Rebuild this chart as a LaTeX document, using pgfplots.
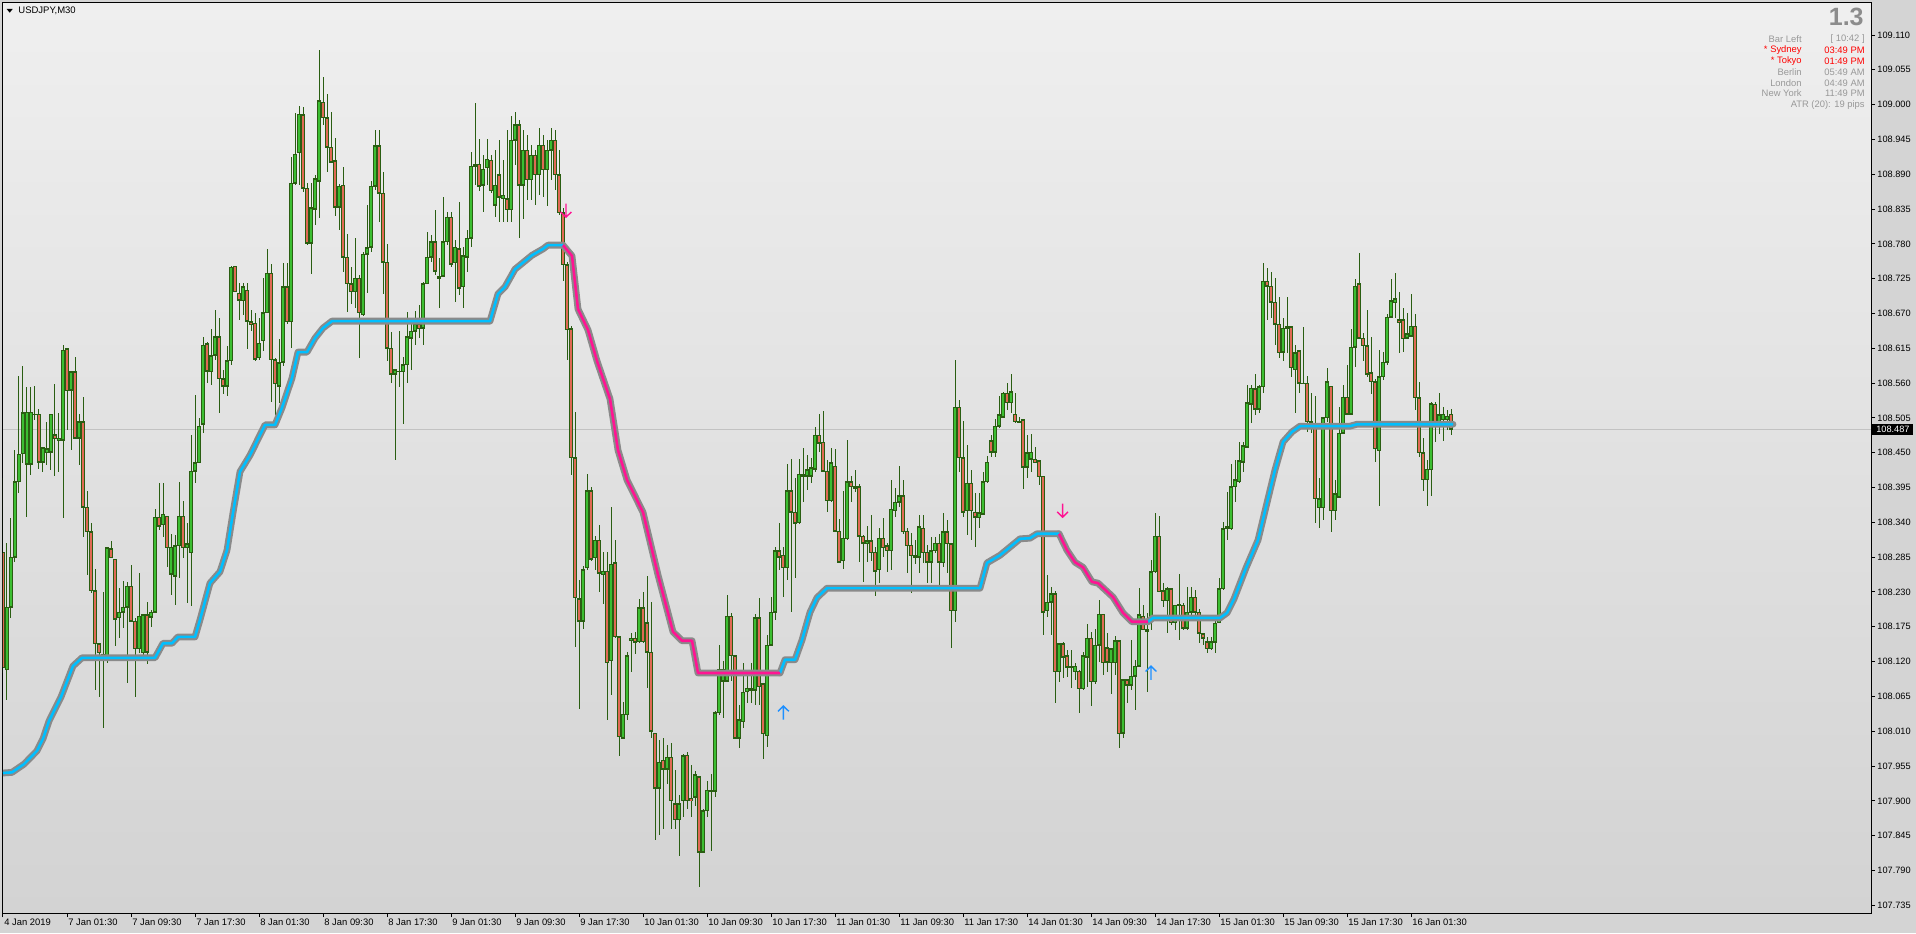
\documentclass[border=0pt]{standalone}
\usepackage{fontspec}
\setmainfont{Liberation Sans}
\usepackage{pgfplots}
\usepackage{pgfplotstable}
\pgfplotsset{compat=1.18}
\definecolor{outerbg}{HTML}{D4D4D4}
\definecolor{bgtop}{HTML}{EFEFEF}
\definecolor{bgbot}{HTML}{D3D3D3}
\definecolor{wickc}{HTML}{2A5E12}
\definecolor{bullc}{HTML}{3CBE32}
\definecolor{bearc}{HTML}{E06A55}
\definecolor{lgray}{HTML}{8A8A8A}
\definecolor{cyanl}{HTML}{00BFFF}
\definecolor{pinkl}{HTML}{FF1493}
\definecolor{arrblue}{HTML}{1E90FF}
\definecolor{infogray}{HTML}{989898}
\definecolor{bigg}{HTML}{8C8C8C}
\definecolor{pricel}{HTML}{C2C2C2}

\pgfdeclareplotmark{mtdown}{%
 \pgfpathmoveto{\pgfqpoint{0pt}{3.4pt}}\pgfpathlineto{\pgfqpoint{0pt}{-3.4pt}}%
 \pgfpathmoveto{\pgfqpoint{-2.7pt}{-0.8pt}}\pgfpathlineto{\pgfqpoint{0pt}{-3.4pt}}\pgfpathlineto{\pgfqpoint{2.7pt}{-0.8pt}}%
 \pgfusepathqstroke}
\pgfdeclareplotmark{mtup}{%
 \pgfpathmoveto{\pgfqpoint{0pt}{-3.4pt}}\pgfpathlineto{\pgfqpoint{0pt}{3.4pt}}%
 \pgfpathmoveto{\pgfqpoint{-2.7pt}{0.8pt}}\pgfpathlineto{\pgfqpoint{0pt}{3.4pt}}\pgfpathlineto{\pgfqpoint{2.7pt}{0.8pt}}%
 \pgfusepathqstroke}

\pgfplotstableread{
i o h l c
0 108.293 108.410 108.102 108.110
1 108.107 108.307 108.059 108.206
2 108.206 108.347 108.189 108.285
3 108.285 108.454 108.277 108.404
4 108.404 108.571 108.386 108.448
5 108.448 108.587 108.434 108.513
6 108.432 108.554 108.348 108.514
7 108.432 108.554 108.415 108.514
8 108.511 108.555 108.502 108.510
9 108.511 108.519 108.424 108.435
10 108.435 108.459 108.420 108.458
11 108.451 108.499 108.431 108.456
12 108.451 108.511 108.423 108.511
13 108.478 108.559 108.413 108.472
14 108.469 108.513 108.420 108.473
15 108.470 108.620 108.347 108.612
16 108.614 108.615 108.486 108.548
17 108.549 108.578 108.454 108.578
18 108.578 108.601 108.473 108.473
19 108.473 108.511 108.431 108.499
20 108.499 108.538 108.317 108.364
21 108.364 108.390 108.257 108.325
22 108.325 108.339 108.229 108.232
23 108.232 108.266 108.075 108.148
24 108.148 108.148 108.064 108.134
25 108.132 108.230 108.015 108.129
26 108.129 108.301 108.118 108.300
27 108.298 108.311 108.284 108.284
28 108.282 108.282 108.145 108.187
29 108.189 108.236 108.157 108.198
30 108.198 108.247 108.173 108.206
31 108.206 108.246 108.086 108.239
32 108.239 108.273 108.184 108.184
33 108.184 108.189 108.064 108.140
34 108.140 108.260 108.134 108.192
35 108.134 108.194 108.126 108.194
36 108.194 108.214 108.116 108.135
37 108.190 108.201 108.175 108.198
38 108.198 108.361 108.198 108.348
39 108.348 108.402 108.328 108.334
40 108.336 108.402 108.317 108.353
41 108.350 108.350 108.269 108.300
42 108.258 108.322 108.225 108.301
43 108.255 108.320 108.209 108.303
44 108.303 108.404 108.252 108.350
45 108.350 108.374 108.284 108.300
46 108.300 108.339 108.213 108.306
47 108.292 108.478 108.208 108.421
48 108.421 108.541 108.402 108.434
49 108.434 108.505 108.434 108.492
50 108.495 108.633 108.481 108.620
51 108.622 108.625 108.560 108.579
52 108.578 108.646 108.557 108.603
53 108.604 108.676 108.597 108.633
54 108.633 108.663 108.513 108.567
55 108.567 108.581 108.543 108.555
56 108.555 108.619 108.540 108.595
57 108.595 108.745 108.589 108.743
58 108.745 108.745 108.704 108.704
59 108.702 108.718 108.660 108.691
60 108.690 108.718 108.668 108.712
61 108.707 108.718 108.614 108.658
62 108.657 108.676 108.642 108.653
63 108.655 108.671 108.595 108.598
64 108.600 108.663 108.597 108.623
65 108.627 108.726 108.611 108.671
66 108.671 108.772 108.671 108.734
67 108.734 108.748 108.530 108.597
68 108.597 108.600 108.510 108.559
69 108.555 108.630 108.529 108.592
70 108.593 108.750 108.587 108.712
71 108.712 108.750 108.653 108.657
72 108.657 108.917 108.615 108.876
73 108.876 108.987 108.873 108.922
74 108.924 108.998 108.873 108.985
75 108.984 108.996 108.862 108.868
76 108.868 108.876 108.778 108.781
77 108.781 108.876 108.732 108.837
78 108.835 108.889 108.810 108.883
79 108.879 109.086 108.821 109.006
80 109.004 109.044 108.968 108.979
81 108.979 109.017 108.894 108.933
82 108.933 108.988 108.908 108.909
83 108.911 108.947 108.824 108.838
84 108.838 108.874 108.802 108.871
85 108.873 108.901 108.736 108.759
86 108.759 108.796 108.672 108.717
87 108.717 108.743 108.685 108.704
88 108.704 108.789 108.679 108.726
89 108.726 108.731 108.600 108.671
90 108.668 108.767 108.666 108.764
91 108.764 108.841 108.702 108.774
92 108.775 108.879 108.767 108.871
93 108.871 108.960 108.865 108.935
94 108.935 108.960 108.815 108.860
95 108.860 108.894 108.701 108.751
96 108.751 108.780 108.595 108.615
97 108.615 108.641 108.560 108.574
98 108.574 108.581 108.439 108.581
99 108.579 108.642 108.554 108.578
100 108.578 108.601 108.495 108.589
101 108.589 108.672 108.560 108.633
102 108.631 108.657 108.581 108.642
103 108.642 108.674 108.620 108.653
104 108.653 108.683 108.631 108.646
105 108.647 108.720 108.620 108.717
106 108.717 108.799 108.717 108.759
107 108.759 108.794 108.751 108.783
108 108.783 108.834 108.731 108.737
109 108.726 108.758 108.679 108.729
110 108.729 108.854 108.729 108.783
111 108.783 108.830 108.778 108.822
112 108.822 108.830 108.743 108.748
113 108.750 108.786 108.688 108.775
114 108.772 108.846 108.699 108.710
115 108.712 108.775 108.679 108.761
116 108.759 108.802 108.736 108.789
117 108.789 108.925 108.775 108.903
118 108.903 109.003 108.873 108.906
119 108.906 108.946 108.864 108.871
120 108.873 108.920 108.830 108.898
121 108.900 108.946 108.873 108.914
122 108.912 108.920 108.860 108.864
123 108.841 108.928 108.822 108.873
124 108.889 108.944 108.815 108.854
125 108.851 108.912 108.815 108.857
126 108.851 108.960 108.815 108.834
127 108.834 108.982 108.815 108.944
128 108.944 108.988 108.905 108.968
129 108.968 108.976 108.789 108.873
130 108.873 108.960 108.819 108.928
131 108.928 108.952 108.849 108.881
132 108.881 108.936 108.849 108.920
133 108.920 108.928 108.841 108.889
134 108.889 108.963 108.857 108.936
135 108.936 108.952 108.854 108.897
136 108.897 108.944 108.840 108.928
137 108.928 108.963 108.881 108.944
138 108.944 108.960 108.865 108.889
139 108.889 108.928 108.826 108.829
140 108.829 108.837 108.721 108.747
141 108.747 108.751 108.597 108.644
142 108.646 108.650 108.415 108.442
143 108.442 108.514 108.143 108.221
144 108.219 108.249 108.045 108.184
145 108.184 108.271 108.172 108.265
146 108.268 108.416 108.265 108.390
147 108.390 108.396 108.279 108.282
148 108.284 108.318 108.265 108.312
149 108.312 108.336 108.230 108.260
150 108.258 108.293 108.211 108.263
151 108.263 108.293 108.028 108.118
152 108.121 108.364 108.067 108.274
153 108.276 108.312 108.157 108.159
154 108.159 108.159 107.971 108.001
155 107.999 108.056 107.998 108.037
156 108.036 108.135 108.028 108.129
157 108.153 108.165 108.104 108.157
158 108.157 108.167 108.132 108.151
159 108.151 108.219 108.149 108.205
160 108.205 108.230 108.149 108.151
161 108.181 108.255 108.078 108.135
162 108.135 108.214 107.999 108.010
163 108.007 108.007 107.838 107.920
164 107.920 107.996 107.846 107.961
165 107.964 107.999 107.856 107.950
166 107.950 107.988 107.927 107.969
167 107.969 107.991 107.856 107.900
168 107.895 107.949 107.856 107.870
169 107.870 107.909 107.813 107.895
170 107.900 107.974 107.874 107.971
171 107.972 107.977 107.887 107.900
172 107.904 107.956 107.874 107.900
173 107.906 107.947 107.892 107.941
174 107.938 107.938 107.764 107.819
175 107.819 107.887 107.818 107.884
176 107.884 107.931 107.874 107.917
177 107.915 107.942 107.821 107.917
178 107.915 108.042 107.906 108.039
179 108.039 108.146 108.036 108.107
180 108.089 108.121 108.031 108.107
181 108.089 108.225 108.089 108.192
182 108.192 108.197 108.089 108.129
183 108.129 108.129 107.999 107.999
184 107.999 108.051 107.983 108.028
185 108.025 108.118 108.015 108.072
186 108.072 108.104 108.055 108.078
187 108.075 108.118 108.055 108.078
188 108.075 108.195 108.051 108.189
189 108.189 108.221 108.051 108.080
190 108.085 108.085 107.966 108.006
191 108.003 108.162 107.985 108.146
192 108.146 108.222 108.146 108.198
193 108.198 108.301 108.186 108.295
194 108.295 108.339 108.265 108.285
195 108.288 108.301 108.222 108.268
196 108.268 108.432 108.249 108.390
197 108.390 108.440 108.198 108.356
198 108.356 108.410 108.252 108.339
199 108.339 108.440 108.338 108.416
200 108.413 108.458 108.372 108.415
201 108.413 108.446 108.391 108.423
202 108.413 108.442 108.402 108.426
203 108.424 108.491 108.419 108.478
204 108.478 108.511 108.451 108.465
205 108.467 108.516 108.419 108.421
206 108.421 108.439 108.356 108.374
207 108.374 108.458 108.372 108.434
208 108.429 108.456 108.325 108.326
209 108.326 108.345 108.276 108.277
210 108.279 108.390 108.266 108.315
211 108.314 108.470 108.312 108.404
212 108.404 108.413 108.372 108.396
213 108.396 108.423 108.388 108.393
214 108.396 108.401 108.277 108.318
215 108.318 108.320 108.246 108.307
216 108.306 108.334 108.277 108.311
217 108.311 108.352 108.279 108.292
218 108.293 108.301 108.224 108.263
219 108.265 108.331 108.244 108.315
220 108.315 108.347 108.285 108.300
221 108.303 108.307 108.262 108.295
222 108.295 108.407 108.265 108.361
223 108.358 108.394 108.348 108.372
224 108.372 108.429 108.364 108.382
225 108.382 108.407 108.322 108.325
226 108.326 108.331 108.260 108.303
227 108.304 108.323 108.229 108.287
228 108.285 108.312 108.274 108.288
229 108.285 108.352 108.260 108.333
230 108.331 108.352 108.276 108.292
231 108.293 108.304 108.244 108.277
232 108.277 108.317 108.244 108.295
233 108.295 108.317 108.292 108.307
234 108.307 108.322 108.233 108.277
235 108.276 108.355 108.269 108.325
236 108.325 108.344 108.260 108.306
237 108.306 108.307 108.142 108.200
238 108.200 108.597 108.183 108.522
239 108.522 108.533 108.419 108.442
240 108.442 108.500 108.348 108.356
241 108.358 108.462 108.320 108.402
242 108.402 108.423 108.312 108.358
243 108.356 108.386 108.301 108.348
244 108.347 108.386 108.331 108.355
245 108.353 108.420 108.352 108.404
246 108.404 108.445 108.402 108.435
247 108.469 108.478 108.443 108.451
248 108.451 108.503 108.443 108.492
249 108.492 108.540 108.489 108.510
250 108.506 108.546 108.505 108.544
251 108.544 108.560 108.518 108.529
252 108.529 108.574 108.513 108.546
253 108.511 108.544 108.497 108.499
254 108.499 108.506 108.497 108.498
255 108.502 108.502 108.393 108.427
256 108.427 108.478 108.410 108.450
257 108.440 108.480 108.420 108.451
258 108.440 108.459 108.434 108.435
259 108.437 108.439 108.399 108.412
260 108.413 108.413 108.162 108.198
261 108.200 108.257 108.190 108.214
262 108.214 108.238 108.162 108.227
263 108.227 108.232 108.055 108.104
264 108.104 108.149 108.088 108.148
265 108.148 108.151 108.094 108.127
266 108.129 108.138 108.096 108.111
267 108.111 108.138 108.078 108.113
268 108.104 108.118 108.091 108.113
269 108.105 108.107 108.039 108.077
270 108.077 108.135 108.075 108.129
271 108.127 108.179 108.080 108.157
272 108.157 108.167 108.050 108.088
273 108.088 108.172 108.085 108.146
274 108.146 108.217 108.119 108.195
275 108.195 108.195 108.099 108.118
276 108.142 108.165 108.104 108.119
277 108.118 108.142 108.069 108.140
278 108.118 108.160 108.099 108.153
279 108.153 108.154 107.983 108.006
280 108.007 108.093 107.999 108.091
281 108.091 108.091 108.055 108.083
282 108.083 108.154 108.075 108.097
283 108.097 108.123 108.044 108.113
284 108.113 108.236 108.111 108.194
285 108.192 108.209 108.170 108.170
286 108.168 108.197 108.072 108.170
287 108.183 108.281 108.170 108.262
288 108.262 108.355 108.260 108.318
289 108.318 108.350 108.230 108.230
290 108.232 108.244 108.206 108.216
291 108.216 108.238 108.165 108.235
292 108.235 108.236 108.178 108.181
293 108.181 108.209 108.170 108.209
294 108.208 108.258 108.154 108.211
295 108.209 108.213 108.170 108.173
296 108.173 108.238 108.170 108.198
297 108.198 108.238 108.190 108.222
298 108.222 108.233 108.186 108.198
299 108.198 108.203 108.149 108.165
300 108.164 108.165 108.146 108.157
301 108.151 108.159 108.134 108.140
302 108.140 108.159 108.138 108.151
303 108.151 108.189 108.134 108.181
304 108.181 108.252 108.181 108.235
305 108.235 108.341 108.233 108.330
306 108.330 108.388 108.312 108.333
307 108.330 108.432 108.328 108.396
308 108.396 108.439 108.372 108.407
309 108.404 108.467 108.402 108.437
310 108.435 108.467 108.419 108.461
311 108.459 108.557 108.459 108.529
312 108.527 108.557 108.497 108.552
313 108.551 108.574 108.510 108.519
314 108.519 108.557 108.513 108.554
315 108.554 108.750 108.544 108.721
316 108.721 108.742 108.660 108.713
317 108.713 108.736 108.663 108.688
318 108.688 108.726 108.620 108.653
319 108.653 108.696 108.600 108.608
320 108.609 108.663 108.595 108.647
321 108.647 108.696 108.608 108.649
322 108.649 108.650 108.570 108.584
323 108.581 108.620 108.513 108.608
324 108.611 108.612 108.544 108.560
325 108.560 108.649 108.559 108.560
326 108.560 108.571 108.483 108.499
327 108.499 108.544 108.481 108.495
328 108.495 108.540 108.339 108.377
329 108.363 108.410 108.331 108.377
330 108.363 108.506 108.344 108.505
331 108.505 108.584 108.499 108.562
332 108.555 108.555 108.325 108.358
333 108.358 108.407 108.344 108.385
334 108.380 108.522 108.378 108.481
335 108.481 108.557 108.481 108.538
336 108.538 108.589 108.510 108.511
337 108.511 108.646 108.510 108.617
338 108.617 108.724 108.585 108.713
339 108.717 108.766 108.631 108.631
340 108.631 108.639 108.595 108.619
341 108.619 108.676 108.570 108.574
342 108.576 108.633 108.543 108.562
343 108.562 108.567 108.435 108.456
344 108.453 108.612 108.366 108.570
345 108.570 108.609 108.565 108.593
346 108.593 108.669 108.589 108.664
347 108.664 108.724 108.663 108.690
348 108.688 108.734 108.663 108.693
349 108.660 108.704 108.608 108.655
350 108.660 108.679 108.609 108.630
351 108.631 108.671 108.631 108.638
352 108.634 108.701 108.633 108.650
353 108.650 108.669 108.518 108.537
354 108.537 108.562 108.443 108.450
355 108.450 108.473 108.390 108.407
356 108.407 108.439 108.366 108.424
357 108.423 108.530 108.382 108.527
358 108.527 108.530 108.467 108.491
359 108.491 108.544 108.480 108.510
360 108.502 108.522 108.469 108.511
361 108.502 108.518 108.486 108.508
362 108.511 108.519 108.478 108.487
}\candles

\pgfplotstableread{
x y
0 107.944
2.25 107.945
5.25 107.958
8.5 107.979
10 107.998
11.5 108.026
14.5 108.064
17.5 108.113
19.75 108.126
38 108.126
40 108.149
42.25 108.149
43.75 108.159
48 108.159
49.25 108.186
51.75 108.244
54.25 108.262
56 108.296
57.5 108.355
59.25 108.420
61.75 108.446
65.5 108.494
68 108.494
69.75 108.521
72.25 108.568
73.75 108.609
76 108.609
78 108.631
80 108.647
82.25 108.658
121.75 108.658
123.75 108.701
125.5 108.712
128 108.740
132.25 108.762
135 108.772
136.25 108.778
140 108.778
}\lineA
\pgfplotstableread{
x y
140 108.778
142.25 108.761
143.75 108.677
146.25 108.644
148.5 108.595
151.75 108.535
153.75 108.454
156 108.407
160 108.356
163.75 108.257
167.5 108.167
169.75 108.153
172.25 108.153
173.75 108.102
194.25 108.102
}\lineB
\pgfplotstableread{
x y
194.25 108.102
195.5 108.123
198 108.123
199.75 108.154
201.75 108.198
203.5 108.221
206 108.236
244.25 108.236
246 108.276
249.25 108.288
251.75 108.301
254.25 108.314
256.75 108.315
258.5 108.322
264 108.322
}\lineC
\pgfplotstableread{
x y
264 108.322
266 108.296
268 108.277
270 108.269
272.25 108.246
273.75 108.244
277.5 108.222
280 108.197
282.25 108.183
286.25 108.183
}\lineD
\pgfplotstableread{
x y
286.25 108.183
287.5 108.189
304.25 108.189
306 108.197
307.75 108.219
310.75 108.268
313.75 108.312
316 108.371
318 108.423
320 108.467
322.25 108.483
324.25 108.492
336.75 108.492
338.5 108.495
362.5 108.495
}\lineE

\begin{document}
\begin{tikzpicture}[font=\fontsize{4.7}{5.2}\selectfont]
\path[use as bounding box] (-1.5pt,-10pt) rectangle (956.5pt,456.5pt);
\fill[outerbg] (-1.5pt,-10pt) rectangle (956.5pt,456.5pt);
\begin{axis}[
  at={(0,0)}, anchor=south west,
  scale only axis, width=934pt, height=455pt,
  xmin=0, xmax=467, ymin=107.7228, ymax=109.1606,
  axis background/.style={top color=bgtop, bottom color=bgbot},
  axis line style={black, line width=0.5pt},
  tick align=outside, major tick length=2pt,
  tick style={black, line width=0.5pt},
  xtick pos=bottom, xticklabel pos=lower,
  ytick pos=right, yticklabel pos=right,
  xtick={0,16,...,352},
  xticklabels={4 Jan 2019,7 Jan 01:30,7 Jan 09:30,7 Jan 17:30,8 Jan 01:30,8 Jan 09:30,8 Jan 17:30,9 Jan 01:30,9 Jan 09:30,9 Jan 17:30,10 Jan 01:30,10 Jan 09:30,10 Jan 17:30,11 Jan 01:30,11 Jan 09:30,11 Jan 17:30,14 Jan 01:30,14 Jan 09:30,14 Jan 17:30,15 Jan 01:30,15 Jan 09:30,15 Jan 17:30,16 Jan 01:30},
  ytick={107.735,107.790,107.845,107.900,107.955,108.010,108.065,108.120,108.175,108.230,108.285,108.340,108.395,108.450,108.505,108.560,108.615,108.670,108.725,108.780,108.835,108.890,108.945,109.000,109.055,109.110},
  yticklabels={107.735,107.790,107.845,107.900,107.955,108.010,108.065,108.120,108.175,108.230,108.285,108.340,108.395,108.450,108.505,108.560,108.615,108.670,108.725,108.780,108.835,108.890,108.945,109.000,109.055,109.110},
  xticklabel style={anchor=north west, inner sep=0pt, xshift=0.5pt, yshift=-0.6pt, font=\fontsize{4.7}{5}\selectfont},
  yticklabel style={anchor=west, inner sep=0pt, xshift=1pt, font=\fontsize{4.6}{5}\selectfont},
  clip=true,
]
% current price line
\addplot[pricel, line width=0.5pt, forget plot] coordinates {(0,108.487) (467,108.487)};
% wicks
\addplot[draw=none, mark=none, forget plot,
  error bars/.cd, y dir=both, y explicit, error mark=none,
  error bar style={draw=wickc, line width=0.5pt, line cap=butt}]
  table[x=i, y expr={0.5*(\thisrow{h}+\thisrow{l})}, y error expr={0.5*(\thisrow{h}-\thisrow{l})}] {\candles};
% body outlines
\addplot[draw=none, mark=none, forget plot,
  error bars/.cd, y dir=both, y explicit, error mark=none,
  error bar style={draw=wickc, line width=1.6pt, line cap=butt}]
  table[x=i, y expr={0.5*(\thisrow{o}+\thisrow{c})}, y error expr={0.5*abs(\thisrow{c}-\thisrow{o})+0.0008}] {\candles};
% bull fills
\addplot[draw=none, mark=none, forget plot,
  restrict expr to domain={\thisrow{c}-\thisrow{o}}{0:10},
  error bars/.cd, y dir=both, y explicit, error mark=none,
  error bar style={draw=bullc, line width=0.6pt, line cap=butt}]
  table[x=i, y expr={0.5*(\thisrow{o}+\thisrow{c})}, y error expr={max(0.5*abs(\thisrow{c}-\thisrow{o})-0.0016,0)}] {\candles};
% bear fills
\addplot[draw=none, mark=none, forget plot,
  restrict expr to domain={\thisrow{o}-\thisrow{c}}{0.0001:10},
  error bars/.cd, y dir=both, y explicit, error mark=none,
  error bar style={draw=bearc, line width=0.6pt, line cap=butt}]
  table[x=i, y expr={0.5*(\thisrow{o}+\thisrow{c})}, y error expr={max(0.5*abs(\thisrow{c}-\thisrow{o})-0.0016,0)}] {\candles};
% indicator: gray underlay
\addplot[lgray, line width=3.4pt, line cap=round, line join=round, forget plot] table[x=x,y=y] {\lineA};
\addplot[lgray, line width=3.4pt, line cap=round, line join=round, forget plot] table[x=x,y=y] {\lineB};
\addplot[lgray, line width=3.4pt, line cap=round, line join=round, forget plot] table[x=x,y=y] {\lineC};
\addplot[lgray, line width=3.4pt, line cap=round, line join=round, forget plot] table[x=x,y=y] {\lineD};
\addplot[lgray, line width=3.4pt, line cap=round, line join=round, forget plot] table[x=x,y=y] {\lineE};
\addplot[cyanl, line width=1.3pt, line join=round, forget plot] table[x=x,y=y] {\lineA};
\addplot[cyanl, line width=1.3pt, line join=round, forget plot] table[x=x,y=y] {\lineC};
\addplot[cyanl, line width=1.3pt, line join=round, forget plot] table[x=x,y=y] {\lineE};
\addplot[pinkl, line width=1.3pt, line join=round, forget plot] table[x=x,y=y] {\lineB};
\addplot[pinkl, line width=1.3pt, line join=round, forget plot] table[x=x,y=y] {\lineD};
% arrows
\addplot[only marks, mark=mtdown, mark options={draw=pinkl, line width=0.7pt}, forget plot] coordinates {(140.75,108.833) (264.9,108.359)};
\addplot[only marks, mark=mtup, mark options={draw=arrblue, line width=0.7pt}, forget plot] coordinates {(195.1,108.039) (287,108.102)};
\coordinate (pl) at (axis cs:467,108.487);
\end{axis}
% price label
\node[fill=black, text=white, inner sep=0pt, minimum width=20.5pt, minimum height=5.6pt, anchor=west, font=\fontsize{4.6}{5}\selectfont] at ([xshift=0.5pt]pl) {108.487};
% title
\fill[black] (1.85pt,452pt) -- (4.85pt,452pt) -- (3.35pt,450.15pt) -- cycle;
\node[anchor=west, inner sep=0pt, font=\fontsize{4.75}{5}\selectfont] at (7.5pt,451.3pt) {USDJPY,M30};
% info block
\node[anchor=east, inner sep=0pt, text=bigg, font=\fontsize{12.5}{13}\selectfont\bfseries] at (930.5pt,448.2pt) {1.3};
\begin{scope}[every node/.style={inner sep=0pt, font=\fontsize{4.7}{5}\selectfont}]
\node[anchor=east, text=infogray] at (899.5pt,437pt) {Bar Left};
\node[anchor=east, text=infogray] at (931pt,437pt) {[ 10:42 ]};
\node[anchor=east, text=red] at (899.5pt,431.5pt) {* Sydney};
\node[anchor=east, text=red] at (931pt,431.5pt) {03:49 PM};
\node[anchor=east, text=red] at (899.5pt,426pt) {* Tokyo};
\node[anchor=east, text=red] at (931pt,426pt) {01:49 PM};
\node[anchor=east, text=infogray] at (899.5pt,420.6pt) {Berlin};
\node[anchor=east, text=infogray] at (931pt,420.6pt) {05:49 AM};
\node[anchor=east, text=infogray] at (899.5pt,415.1pt) {London};
\node[anchor=east, text=infogray] at (931pt,415.1pt) {04:49 AM};
\node[anchor=east, text=infogray] at (899.5pt,409.8pt) {New York};
\node[anchor=east, text=infogray] at (931pt,409.8pt) {11:49 PM};
\node[anchor=east, text=infogray] at (931pt,404pt) {ATR (20): 19 pips};
\end{scope}
\end{tikzpicture}
\end{document}
